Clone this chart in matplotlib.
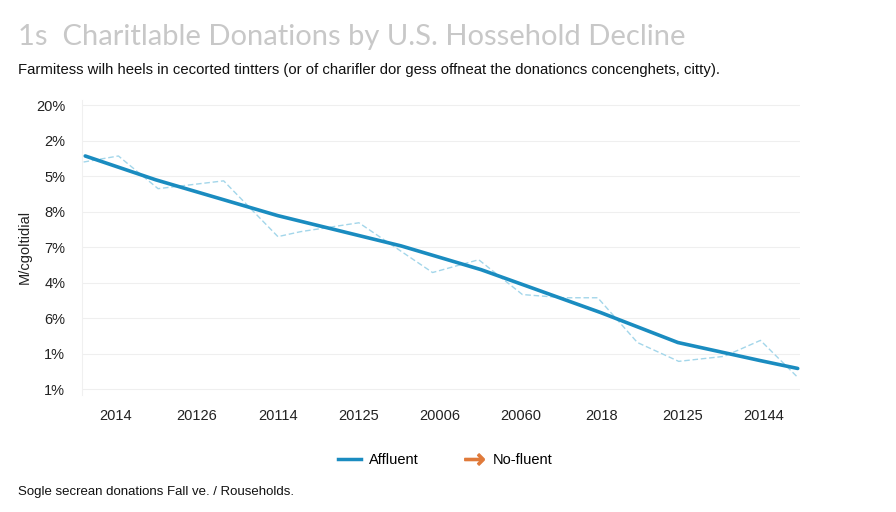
import matplotlib.pyplot as plt
from matplotlib.lines import Line2D

# tick labels as printed on the chart
x_labels = ["2014", "20126", "20114", "20125", "20006", "20060", "2018", "20125", "20144"]
y_labels = ["1%", "1%", "6%", "4%", "7%", "8%", "5%", "2%", "20%"]

# trend line (affluent), positions in tick units
affluent_x = [-0.38, 0.49, 2.0, 3.52, 4.51, 5.99, 6.94, 7.96, 8.42]
affluent_y = [6.57, 5.90, 4.89, 4.04, 3.37, 2.16, 1.32, 0.81, 0.59]

# thin dashed yearly series
yearly_x = [-0.40, 0.03, 0.52, 1.33, 2.0, 2.28, 3.0, 3.91, 4.48, 5.02, 5.53, 5.95,
            6.44, 6.95, 7.51, 7.96, 8.42]
yearly_y = [6.40, 6.57, 5.65, 5.87, 4.30, 4.44, 4.69, 3.29, 3.65, 2.67, 2.58, 2.58,
            1.32, 0.79, 0.93, 1.38, 0.34]

blue = "#1a8cc0"
light_blue = "#a3d6ea"
orange = "#e07a3a"

fig = plt.figure(figsize=(8.96, 5.12), dpi=100)
ax = fig.add_axes([0.0915, 0.229, 0.8015, 0.576])

ax.plot(yearly_x, yearly_y, color=light_blue, lw=1.0, ls=(0, (4, 2)))
ax.plot(affluent_x, affluent_y, color=blue, lw=2.6, solid_capstyle="round")

ax.set_xlim(-0.42, 8.45)
ax.set_ylim(-0.15, 8.15)
ax.set_xticks(range(len(x_labels)))
ax.set_xticklabels(x_labels, fontsize=10.5, color="#222222", family="Liberation Sans")
ax.set_yticks(range(len(y_labels)))
ax.set_yticklabels(y_labels, fontsize=10.5, color="#222222", family="Liberation Sans")
ax.tick_params(axis="x", length=0, pad=10)
ax.tick_params(axis="y", length=0, pad=12)
ax.grid(axis="y", color="#efefef", lw=0.8)
for s in ["top", "right", "bottom"]:
    ax.spines[s].set_visible(False)
ax.spines["left"].set_color("#f0f0f0")
ax.set_ylabel("M/cgoltidial", fontsize=10.5, color="#222222", family="Liberation Sans", labelpad=3)

fig.text(0.02, 0.927, "1s  Charitlable Donations by U.S. Hossehold Decline", fontsize=21,
         color="#c8c8c8", family="Lato", va="center")
fig.text(0.02, 0.863, "Farmitess wilh heels in cecorted tintters (or of charifler dor gess offneat the "
         "donationcs concenghets, citty).", fontsize=10.7, color="#111111",
         family="Liberation Sans", va="center")
fig.text(0.02, 0.039, "Sogle secrean donations Fall ve. / Rouseholds.", fontsize=9.5,
         color="#111111", family="Liberation Sans", va="center")

handles = [Line2D([], [], color=blue, lw=2.5),
           Line2D([], [], color=orange, ls="none", marker=r"$\rightarrow$", markersize=14)]
fig.legend(handles, ["Affluent", "No-fluent"], loc="center", bbox_to_anchor=(0.497, 0.102),
           ncol=2, frameon=False, prop={"family": "Liberation Sans", "size": 10.5},
           handlelength=1.6, handletextpad=0.5, columnspacing=3.0)

fig.savefig("out.png", dpi=100)
